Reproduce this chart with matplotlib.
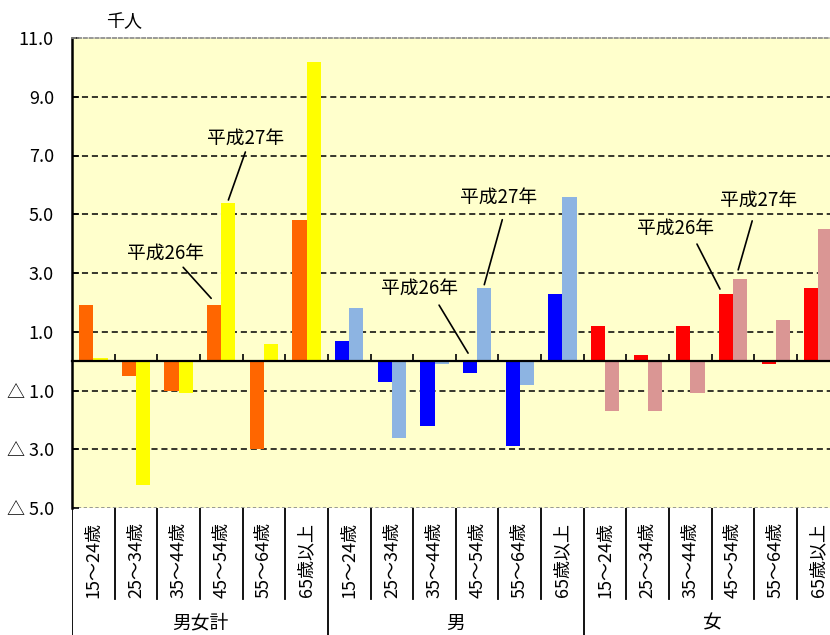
import matplotlib
matplotlib.use('Agg')
import matplotlib.pyplot as plt
from matplotlib.transforms import offset_copy
from matplotlib.lines import Line2D

plt.rcParams['font.family'] = ['Noto Sans CJK JP', 'DejaVu Sans']

# data (千人)
ages = ['15～24歳', '25～34歳', '35～44歳', '45～54歳', '55～64歳', '65歳以上']
groups = ['男女計', '男', '女']
total_h26 = [1.9, -0.5, -1.0, 1.9, -3.0, 4.8]
total_h27 = [0.1, -4.2, -1.1, 5.4, 0.6, 10.2]
male_h26 = [0.7, -0.7, -2.2, -0.4, -2.9, 2.3]
male_h27 = [1.8, -2.6, -0.1, 2.5, -0.8, 5.6]
female_h26 = [1.2, 0.2, 1.2, 2.3, -0.1, 2.5]
female_h27 = [-1.7, -1.7, -1.1, 2.8, 1.4, 4.5]
yticks = [-5, -3, -1, 1, 3, 5, 7, 9, 11]

h26 = [total_h26, male_h26, female_h26]
h27 = [total_h27, male_h27, female_h27]
colors_h26 = ['#FF6600', '#0000FF', '#FF0000']
colors_h27 = ['#FFFF00', '#8DB4E2', '#DA9694']

W, H = 830, 635
fig = plt.figure(figsize=(W / 100, H / 100), dpi=100)
fig.patch.set_facecolor('white')

cat_w = 42.65
n_cat = len(ages) * len(groups)
left_px, top_px, bot_px = 72, 38, 508
ax = fig.add_axes([left_px / W, (H - bot_px) / H, n_cat * cat_w / W, (bot_px - top_px) / H])
ax.set_facecolor('#FFFFCC')
ax.set_xlim(0, n_cat)
ax.set_ylim(yticks[0], yticks[-1])

bw = 1 / 3
for g in range(len(groups)):
    xs = [g * len(ages) + i for i in range(len(ages))]
    ax.bar([x + 1 / 6 for x in xs], h26[g], width=bw, align='edge', color=colors_h26[g], zorder=2)
    ax.bar([x + 1 / 2 for x in xs], h27[g], width=bw, align='edge', color=colors_h27[g], zorder=2)

# gridlines
for t in yticks[1:-1]:
    ax.axhline(t, color='black', ls=(0, (4, 2.5)), lw=1.1, zorder=1)
ax.axhline(yticks[0], color='#888888', ls=(0, (2, 1.5)), lw=1.2, zorder=1)

ax.spines['right'].set_visible(False)
ax.spines['top'].set_color('#888888')
ax.spines['top'].set_linestyle((0, (2, 1.5)))
ax.spines['top'].set_linewidth(1.2)
ax.spines['left'].set_linewidth(1.8)
ax.spines['bottom'].set_position(('data', 0))
ax.spines['bottom'].set_linewidth(1.6)
ax.spines['bottom'].set_zorder(3)

ax.set_xticks(range(1, n_cat))
ax.tick_params(axis='x', direction='in', length=5, width=1.2, labelbottom=False)
ax.set_yticks(yticks)
ax.set_yticklabels([f'{t:.1f}' if t > 0 else f'△ {abs(t):.1f}' for t in yticks])
ax.tick_params(axis='y', direction='in', length=5, width=1.2, pad=13, labelsize=13)

fig.text(124 / W, 1 - 22 / H, '千人', ha='center', va='center', fontsize=13)

# annotations: (group, age index, series, label, line end, line start, text centre) offsets in px
notes = [
    (0, 3, 27, '平成27年', (0, 2.5), (17, 50.5), (17, 64.5)),
    (0, 3, 26, '平成26年', (-3, 7), (-31, 38), (-49, 52)),
    (1, 3, 27, '平成27年', (0, 3), (18, 68), (14, 90)),
    (1, 3, 26, '平成26年', (-2, 8), (-31, 56), (-51, 73)),
    (2, 3, 26, '平成26年', (-6, 4.5), (-29, 49.5), (-50.5, 65.5)),
    (2, 3, 27, '平成27年', (-2, 9), (12, 58), (18, 79)),
]
for g, i, yr, label, e, s, t in notes:
    vals = h26 if yr == 26 else h27
    x = g * len(ages) + i + (1 / 3 if yr == 26 else 2 / 3)
    y = max(vals[g][i], 0)
    ax.annotate('', xy=(x, y), xycoords=offset_copy(ax.transData, fig=fig, x=e[0], y=e[1], units='dots'),
                xytext=(x, y), textcoords=offset_copy(ax.transData, fig=fig, x=s[0], y=s[1], units='dots'),
                arrowprops=dict(arrowstyle='-', color='black', lw=1.2, shrinkA=0, shrinkB=0), zorder=4)
    ax.text(x, y, label, transform=offset_copy(ax.transData, fig=fig, x=t[0], y=t[1], units='dots'),
            ha='center', va='center', fontsize=13.5, zorder=4)

# category table below the plot
tab = fig.add_axes([left_px / W, 0, n_cat * cat_w / W, (H - bot_px) / H])
tab.set_xlim(0, n_cat)
tab.set_ylim(0, 1)
tab.axis('off')
split = (H - 599) / (H - bot_px)
for k in range(n_cat + 1):
    y0 = 0 if k % len(ages) == 0 else split
    tab.add_line(Line2D([k, k], [y0, 1], color='black', lw=1.3))
for g, name in enumerate(groups):
    for i, a in enumerate(ages):
        tab.text(g * len(ages) + i + 0.5, (H - 560) / (H - bot_px), a, rotation=90,
                 ha='center', va='center', fontsize=13)
    tab.text(g * len(ages) + len(ages) / 2, (H - 623) / (H - bot_px), name,
             ha='center', va='center', fontsize=13.5)

fig.savefig('out.png', dpi=100)
